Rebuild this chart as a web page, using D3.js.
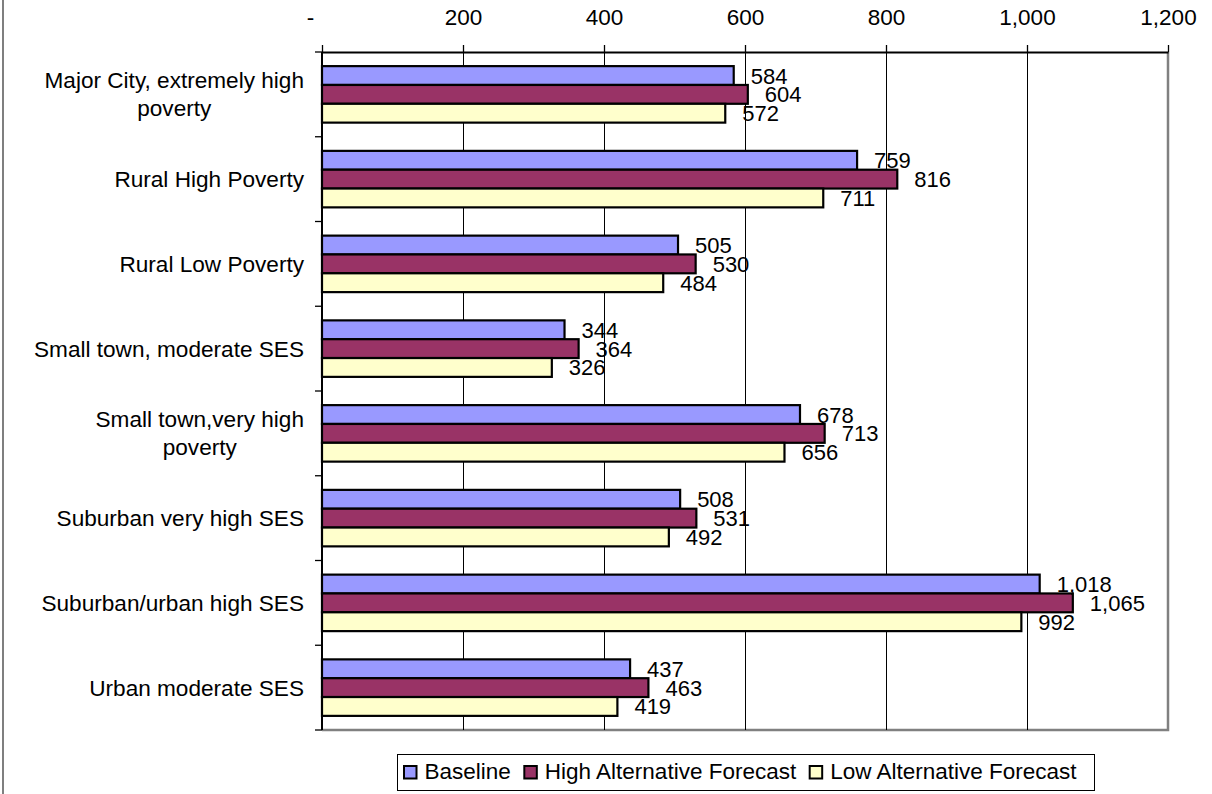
<!DOCTYPE html>
<html>
<head>
<meta charset="utf-8">
<script src="https://cdn.jsdelivr.net/npm/d3@7"></script>
<style>
  html, body { margin: 0; padding: 0; background: #fff; }
  svg { display: block; font-family: Arial, "Liberation Sans", sans-serif; }
</style>
</head>
<body>
<svg id="chart" width="1212" height="794"></svg>
<script>
const categories = [
  "Major City, extremely high poverty",
  "Rural High Poverty",
  "Rural Low Poverty",
  "Small town, moderate SES",
  "Small town,very high poverty",
  "Suburban very high SES",
  "Suburban/urban high SES",
  "Urban moderate SES"
];
const seriesNames = ["Baseline", "High Alternative Forecast", "Low Alternative Forecast"];
const baseline = [584, 759, 505, 344, 678, 508, 1018, 437];
const highAlt  = [604, 816, 530, 364, 713, 531, 1065, 463];
const lowAlt   = [572, 711, 484, 326, 656, 492, 992, 419];
const tickValues = [0, 200, 400, 600, 800, 1000, 1200];
const colors = ["#9999FF", "#993366", "#FFFFCC"];

const seriesValues = [baseline, highAlt, lowAlt];
const svg = d3.select("#chart");

const plot = { left: 322, right: 1168, top: 52, bottom: 730 };
const x = d3.scaleLinear().domain([0, 1200]).range([plot.left, plot.right]);
const y = d3.scaleBand().domain(categories).range([plot.top, plot.bottom]).padding(0);
const bw = y.bandwidth();
const groupPad = bw * (0.75 / 4.5);
const ySub = d3.scaleBand().domain(seriesNames).range([groupPad, bw - groupPad]).padding(0);

// outer chart border (only left edge visible)
svg.append("rect").attr("x", 3).attr("y", -2).attr("width", 1400).attr("height", 1000)
  .attr("fill", "none").attr("stroke", "#000").attr("stroke-width", 1);

// plot area right/bottom border (gray)
svg.append("path")
  .attr("d", `M${plot.right},${plot.top}V${plot.bottom}H${plot.left}`)
  .attr("fill", "none").attr("stroke", "#808080").attr("stroke-width", 2.5);

// gridlines
svg.append("g").selectAll("line").data(tickValues.filter(d => d > 0 && d < 1200)).join("line")
  .attr("x1", d => Math.round(x(d)) + 0.5).attr("x2", d => Math.round(x(d)) + 0.5)
  .attr("y1", plot.top).attr("y2", plot.bottom)
  .attr("stroke", "#000").attr("stroke-width", 1);

// bars
const groups = svg.append("g").selectAll("g").data(categories).join("g")
  .attr("transform", c => `translate(0,${y(c)})`);

seriesNames.forEach((s, si) => {
  groups.append("rect")
    .attr("x", x(0))
    .attr("y", (c, i) => ySub(s))
    .attr("width", (c, i) => x(seriesValues[si][i]) - x(0))
    .attr("height", ySub.bandwidth())
    .attr("fill", colors[si])
    .attr("stroke", "#000").attr("stroke-width", 2.2);
});

// value labels
seriesNames.forEach((s, si) => {
  groups.append("text")
    .attr("x", (c, i) => x(seriesValues[si][i]) + 17)
    .attr("y", ySub(s) + ySub.bandwidth() / 2 + 8)
    .attr("font-size", "22px")
    .attr("fill", "#000")
    .text((c, i) => d3.format(",")(seriesValues[si][i]));
});

// top axis
const xAxis = d3.axisTop(x).tickValues(tickValues)
  .tickFormat(d => d === 0 ? "-" : d3.format(",")(d))
  .tickSize(7).tickSizeOuter(0);
const gx = svg.append("g").attr("transform", `translate(0,${plot.top})`).call(xAxis);
gx.select(".domain").attr("stroke", "#000").attr("stroke-width", 2);
gx.selectAll(".tick line").attr("stroke", "#000").attr("stroke-width", 1.3);
gx.selectAll(".tick text")
  .attr("font-size", "22.5px").attr("font-family", "Arial, 'Liberation Sans', sans-serif")
  .attr("fill", "#000").attr("y", -27).attr("dy", 0)
  .attr("dx", d => d === 0 ? -12 : 0);

// left axis line and boundary ticks
svg.append("line").attr("x1", plot.left).attr("x2", plot.left)
  .attr("y1", plot.top).attr("y2", plot.bottom)
  .attr("stroke", "#000").attr("stroke-width", 2);
const boundaries = categories.map(c => y(c)).concat([plot.bottom]);
svg.append("g").selectAll("line").data(boundaries).join("line")
  .attr("x1", plot.left - 7).attr("x2", plot.left)
  .attr("y1", d => d).attr("y2", d => d)
  .attr("stroke", "#000").attr("stroke-width", 1.3);

// category labels (wrapped, centered lines, block right-aligned)
const labelRight = 304;
const maxW = 275;
const lineH = 28;
const fs = 22.6;
categories.forEach(c => {
  const g = svg.append("g");
  const t = g.append("text").attr("font-size", fs + "px").attr("fill", "#000");
  const words = c.split(" ");
  const lines = [];
  let cur = [];
  words.forEach(w => {
    const trial = cur.concat([w]).join(" ");
    t.text(trial);
    if (t.node().getComputedTextLength() > maxW && cur.length) {
      lines.push(cur.join(" "));
      cur = [w];
    } else {
      cur.push(w);
    }
  });
  lines.push(cur.join(" "));
  t.text("");
  const widths = lines.map(l => { t.text(l); return t.node().getComputedTextLength(); });
  t.text("");
  const blockW = d3.max(widths);
  const cx = labelRight - blockW / 2;
  const mid = y(c) + bw / 2;
  const firstBase = mid - ((lines.length - 1) * lineH) / 2 + 8;
  t.attr("text-anchor", "middle");
  lines.forEach((l, i) => {
    t.append("tspan").attr("x", cx).attr("y", firstBase + i * lineH).text(l);
  });
});

// legend
const legend = svg.append("g");
legend.append("rect").attr("x", 397.5).attr("y", 754.5).attr("width", 697).attr("height", 36)
  .attr("fill", "#fff").attr("stroke", "#000").attr("stroke-width", 1);
let lx = 404;
seriesNames.forEach((s, si) => {
  legend.append("rect").attr("x", lx).attr("y", 766).attr("width", 12.5).attr("height", 12.5)
    .attr("fill", colors[si]).attr("stroke", "#000").attr("stroke-width", 2);
  const tt = legend.append("text").attr("x", lx + 20.5).attr("y", 779)
    .attr("font-size", "22.5px").attr("fill", "#000").text(s);
  lx = lx + 20.5 + tt.node().getComputedTextLength() + 13.5;
});
</script>
</body>
</html>
